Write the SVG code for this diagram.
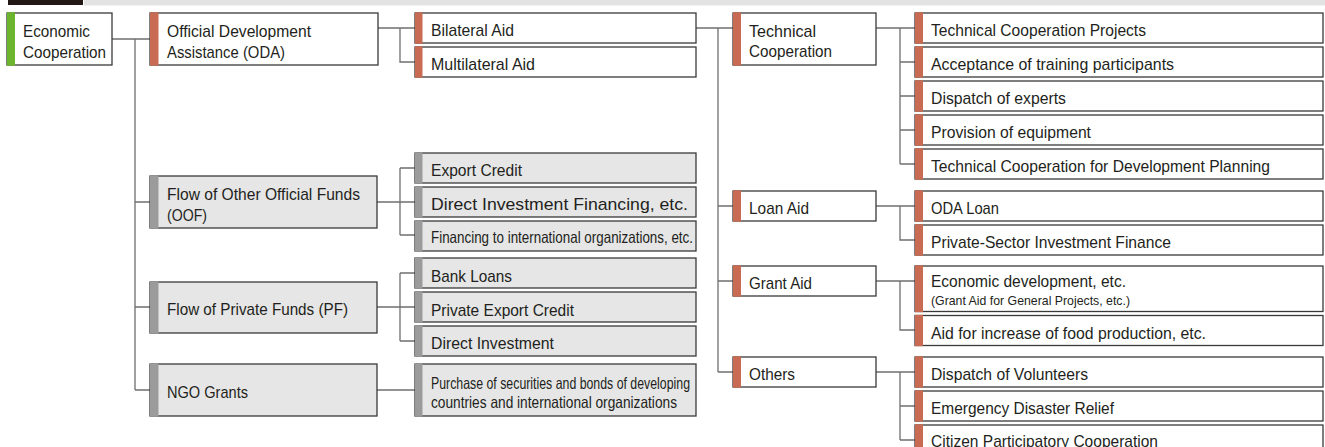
<svg xmlns="http://www.w3.org/2000/svg" width="1325" height="447" viewBox="0 0 1325 447">
<style>
.bx{fill:#ffffff;stroke:#3a3a3a;stroke-width:1.3}
.gb{fill:#e6e6e6;stroke:#3a3a3a;stroke-width:1.3}
.red{fill:#c86b52}
.gry{fill:#9b9b9b}
.grn{fill:#6db52e}
text{font-family:"Liberation Sans",Arial,sans-serif;font-size:17px;fill:#231f20}
.s{font-size:13.5px}
.m{font-size:16.5px}
.conn{stroke:#6f6f6f;stroke-width:1.3;fill:none}
</style>
<rect x="8" y="0" width="75" height="5" fill="#231815"/>
<rect x="84" y="0" width="1241" height="5.5" fill="#e3e3e3"/>

<g id="connectors" class="conn">
<path d="M112 39H150M135 39V390M135 202H150M135 307H150M135 390H150"/>
<path d="M378 28H415M400 28V62H415"/>
<path d="M377 202H415M400 168V235M400 168H415M400 235H415"/>
<path d="M377 307H415M400 273V341M400 273H415M400 341H415"/>
<path d="M377 390H415"/>
<path d="M696 28H733M718 28V372M718 206H733M718 281H733M718 372H733"/>
<path d="M876 28H915M900 28V164M900 62H915M900 96H915M900 130H915M900 164H915"/>
<path d="M876 206H915M900 206V240H915"/>
<path d="M876 281H915M900 281V330H915"/>
<path d="M876 372H915M900 372V440M900 406H915M900 440H915"/>
</g>

<g id="economic-cooperation"><rect class="bx" x="7" y="13" width="105" height="52"/><rect class="grn" x="7" y="12.3" width="8" height="53.4"/>
<text x="23" y="36.5" textLength="67" lengthAdjust="spacingAndGlyphs">Economic</text><text x="23" y="57.5" textLength="83" lengthAdjust="spacingAndGlyphs">Cooperation</text></g>

<g id="oda"><rect class="bx" x="150" y="13" width="228" height="52"/><rect class="red" x="150" y="12.3" width="8.5" height="53.4"/>
<text x="167" y="36.5" textLength="144" lengthAdjust="spacingAndGlyphs">Official Development</text><text x="167" y="57.5" textLength="118" lengthAdjust="spacingAndGlyphs">Assistance (ODA)</text></g>

<g id="oof"><rect class="gb" x="150" y="176" width="227" height="52"/><rect class="gry" x="150" y="175.3" width="8.5" height="53.4"/>
<text x="167" y="200" textLength="193" lengthAdjust="spacingAndGlyphs">Flow of Other Official Funds</text><text x="167" y="221" textLength="40" lengthAdjust="spacingAndGlyphs">(OOF)</text></g>

<g id="pf"><rect class="gb" x="150" y="282" width="227" height="51"/><rect class="gry" x="150" y="281.3" width="8.5" height="52.4"/>
<text x="167" y="315" textLength="181" lengthAdjust="spacingAndGlyphs">Flow of Private Funds (PF)</text></g>

<g id="ngo"><rect class="gb" x="150" y="364" width="227" height="52"/><rect class="gry" x="150" y="363.3" width="8.5" height="53.4"/>
<text x="167" y="398" textLength="81" lengthAdjust="spacingAndGlyphs">NGO Grants</text></g>

<g id="bilateral"><rect class="bx" x="415" y="13" width="281" height="30"/><rect class="red" x="415" y="12.3" width="7.5" height="31.4"/>
<text x="431" y="36" textLength="83" lengthAdjust="spacingAndGlyphs">Bilateral Aid</text></g>
<g id="multilateral"><rect class="bx" x="415" y="47" width="281" height="30"/><rect class="red" x="415" y="46.3" width="7.5" height="31.4"/>
<text x="431" y="70" textLength="104" lengthAdjust="spacingAndGlyphs">Multilateral Aid</text></g>

<g id="export-credit"><rect class="gb" x="415" y="153" width="281" height="30"/><rect class="gry" x="415" y="152.3" width="7.5" height="31.4"/>
<text x="431" y="176" textLength="91" lengthAdjust="spacingAndGlyphs">Export Credit</text></g>
<g id="direct-investment-financing"><rect class="gb" x="415" y="187" width="281" height="30"/><rect class="gry" x="415" y="186.3" width="7.5" height="31.4"/>
<text x="431" y="209.5" textLength="257" lengthAdjust="spacingAndGlyphs">Direct Investment Financing, etc.</text></g>
<g id="financing-intl"><rect class="gb" x="415" y="221" width="281" height="30"/><rect class="gry" x="415" y="220.3" width="7.5" height="31.4"/>
<text x="431" y="243" class="m" textLength="262" lengthAdjust="spacingAndGlyphs">Financing to international organizations, etc.</text></g>

<g id="bank-loans"><rect class="gb" x="415" y="258" width="281" height="30"/><rect class="gry" x="415" y="257.3" width="7.5" height="31.4"/>
<text x="431" y="281.5" textLength="81" lengthAdjust="spacingAndGlyphs">Bank Loans</text></g>
<g id="private-export-credit"><rect class="gb" x="415" y="292" width="281" height="30"/><rect class="gry" x="415" y="291.3" width="7.5" height="31.4"/>
<text x="431" y="315.5" textLength="143" lengthAdjust="spacingAndGlyphs">Private Export Credit</text></g>
<g id="direct-investment"><rect class="gb" x="415" y="326" width="281" height="30"/><rect class="gry" x="415" y="325.3" width="7.5" height="31.4"/>
<text x="431" y="349" textLength="123" lengthAdjust="spacingAndGlyphs">Direct Investment</text></g>

<g id="purchase-securities"><rect class="gb" x="415" y="364" width="281" height="52"/><rect class="gry" x="415" y="363.3" width="7.5" height="53.4"/>
<text x="431" y="389" class="m" textLength="259" lengthAdjust="spacingAndGlyphs">Purchase of securities and bonds of developing</text>
<text x="431" y="407.5" class="m" textLength="246" lengthAdjust="spacingAndGlyphs">countries and international organizations</text></g>

<g id="technical-cooperation"><rect class="bx" x="733" y="13" width="143" height="52"/><rect class="red" x="733" y="12.3" width="8" height="53.4"/>
<text x="749" y="36.5" textLength="67" lengthAdjust="spacingAndGlyphs">Technical</text><text x="749" y="57" textLength="83" lengthAdjust="spacingAndGlyphs">Cooperation</text></g>
<g id="loan-aid"><rect class="bx" x="733" y="191" width="143" height="30"/><rect class="red" x="733" y="190.3" width="8" height="31.4"/>
<text x="749" y="213.5" textLength="60" lengthAdjust="spacingAndGlyphs">Loan Aid</text></g>
<g id="grant-aid"><rect class="bx" x="733" y="266" width="143" height="30"/><rect class="red" x="733" y="265.3" width="8" height="31.4"/>
<text x="749" y="289" textLength="63" lengthAdjust="spacingAndGlyphs">Grant Aid</text></g>
<g id="others"><rect class="bx" x="733" y="357" width="143" height="30"/><rect class="red" x="733" y="356.3" width="8" height="31.4"/>
<text x="749" y="379.5" textLength="46" lengthAdjust="spacingAndGlyphs">Others</text></g>

<g id="tc-projects"><rect class="bx" x="915" y="13" width="408" height="30"/><rect class="red" x="915" y="12.3" width="8" height="31.4"/>
<text x="931" y="36" textLength="215" lengthAdjust="spacingAndGlyphs">Technical Cooperation Projects</text></g>
<g id="training"><rect class="bx" x="915" y="47" width="408" height="30"/><rect class="red" x="915" y="46.3" width="8" height="31.4"/>
<text x="931" y="70" textLength="243" lengthAdjust="spacingAndGlyphs">Acceptance of training participants</text></g>
<g id="experts"><rect class="bx" x="915" y="81" width="408" height="30"/><rect class="red" x="915" y="80.3" width="8" height="31.4"/>
<text x="931" y="104" textLength="135" lengthAdjust="spacingAndGlyphs">Dispatch of experts</text></g>
<g id="equipment"><rect class="bx" x="915" y="115" width="408" height="30"/><rect class="red" x="915" y="114.3" width="8" height="31.4"/>
<text x="931" y="138" textLength="160" lengthAdjust="spacingAndGlyphs">Provision of equipment</text></g>
<g id="dev-planning"><rect class="bx" x="915" y="149" width="408" height="30"/><rect class="red" x="915" y="148.3" width="8" height="31.4"/>
<text x="931" y="172" textLength="339" lengthAdjust="spacingAndGlyphs">Technical Cooperation for Development Planning</text></g>

<g id="oda-loan"><rect class="bx" x="915" y="191" width="408" height="30"/><rect class="red" x="915" y="190.3" width="8" height="31.4"/>
<text x="931" y="214" textLength="68" lengthAdjust="spacingAndGlyphs">ODA Loan</text></g>
<g id="psif"><rect class="bx" x="915" y="225" width="408" height="30"/><rect class="red" x="915" y="224.3" width="8" height="31.4"/>
<text x="931" y="248" textLength="240" lengthAdjust="spacingAndGlyphs">Private-Sector Investment Finance</text></g>

<g id="economic-development"><rect class="bx" x="915" y="266" width="408" height="45.5"/><rect class="red" x="915" y="265.3" width="8" height="46.9"/>
<text x="931" y="287" textLength="195" lengthAdjust="spacingAndGlyphs">Economic development, etc.</text>
<text x="931" y="305" class="s" textLength="199" lengthAdjust="spacingAndGlyphs">(Grant Aid for General Projects, etc.)</text></g>
<g id="food-production"><rect class="bx" x="915" y="315.5" width="408" height="30"/><rect class="red" x="915" y="314.8" width="8" height="31.4"/>
<text x="931" y="338.5" textLength="275" lengthAdjust="spacingAndGlyphs">Aid for increase of food production, etc.</text></g>

<g id="volunteers"><rect class="bx" x="915" y="357" width="408" height="30"/><rect class="red" x="915" y="356.3" width="8" height="31.4"/>
<text x="931" y="380" textLength="157" lengthAdjust="spacingAndGlyphs">Dispatch of Volunteers</text></g>
<g id="disaster-relief"><rect class="bx" x="915" y="391" width="408" height="30"/><rect class="red" x="915" y="390.3" width="8" height="31.4"/>
<text x="931" y="414" textLength="183" lengthAdjust="spacingAndGlyphs">Emergency Disaster Relief</text></g>
<g id="citizen"><rect class="bx" x="915" y="425" width="408" height="30"/><rect class="red" x="915" y="424.3" width="8" height="31.4"/>
<text x="931" y="447" textLength="227" lengthAdjust="spacingAndGlyphs">Citizen Participatory Cooperation</text></g>
</svg>
